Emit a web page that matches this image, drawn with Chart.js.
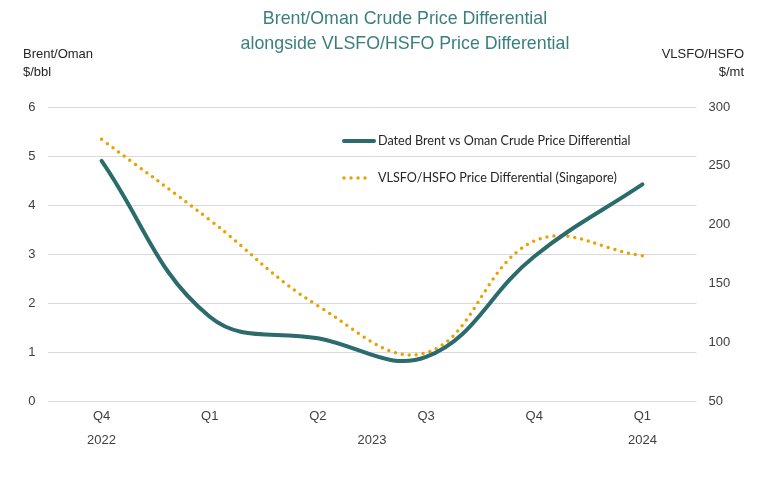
<!DOCTYPE html>
<html>
<head>
<meta charset="utf-8">
<script src="https://cdn.jsdelivr.net/npm/chart.js@4.4.1/dist/chart.umd.min.js"></script>
<style>
  html, body { margin: 0; padding: 0; background: #fff; }
  #wrap { width: 768px; height: 484px; position: relative; }
</style>
</head>
<body>
<div id="wrap"><canvas id="ctx" width="768" height="484"></canvas></div>
<script>
// data
var quarters = ["Q4", "Q1", "Q2", "Q3", "Q4", "Q1"];
var years = ["2022", "2023", "2024"];
var yearPos = [0, 2.5, 5];
var brentOman = [4.90, 1.72, 1.28, 0.90, 2.95, 4.42];
var vlsfoHsfo = [272.5, 204, 131, 91, 186, 173.5];

var titleLines = ["Brent/Oman Crude Price Differential", "alongside VLSFO/HSFO Price Differential"];
var leftCaption = ["Brent/Oman", "$/bbl"];
var rightCaption = ["VLSFO/HSFO", "$/mt"];

var teal = "#2b6b6c";
var gold = "#e8a302";
var tickFont = { family: "'Liberation Sans', sans-serif", size: 13 };

var textPlugin = {
    id: "texts",
    afterDraw: function (chart) {
        var c = chart.ctx;
        c.save();
        c.textBaseline = "middle";

        // title
        c.fillStyle = "#3a7f7e";
        c.font = "17.8px 'Liberation Sans', sans-serif";
        c.textAlign = "center";
        c.fillText(titleLines[0], 405, 19);
        c.fillText(titleLines[1], 405, 44);

        // axis captions
        c.fillStyle = "#262626";
        c.font = "13px 'Liberation Sans', sans-serif";
        c.textAlign = "left";
        c.fillText(leftCaption[0], 23, 54);
        c.fillText(leftCaption[1], 23, 72);
        c.textAlign = "right";
        c.fillText(rightCaption[0], 744, 54);
        c.fillText(rightCaption[1], 744, 72);

        // legend
        var ds = chart.data.datasets;
        c.textAlign = "left";
        c.font = "12.6px Lato, sans-serif";
        c.lineCap = "round";

        c.strokeStyle = ds[0].borderColor;
        c.lineWidth = ds[0].borderWidth;
        c.beginPath();
        c.moveTo(344, 141);
        c.lineTo(374, 141);
        c.stroke();
        c.fillStyle = "#262626";
        c.fillText(ds[0].label, 378, 141);

        c.strokeStyle = ds[1].borderColor;
        c.lineWidth = ds[1].borderWidth;
        c.setLineDash(ds[1].borderDash);
        c.beginPath();
        c.moveTo(344, 178);
        c.lineTo(372, 178);
        c.stroke();
        c.setLineDash([]);
        c.fillText(ds[1].label, 378, 178);

        c.restore();
    }
};

var chart = new Chart(document.getElementById("ctx"), {
    type: "line",
    data: {
        labels: quarters,
        datasets: [
            {
                label: "Dated Brent vs Oman Crude Price Differential",
                data: brentOman,
                yAxisID: "y",
                borderColor: teal,
                backgroundColor: teal,
                borderWidth: 4,
                borderCapStyle: "round",
                tension: 0.4,
                pointRadius: 0
            },
            {
                label: "VLSFO/HSFO Price Differential (Singapore)",
                data: vlsfoHsfo,
                yAxisID: "y1",
                borderColor: gold,
                backgroundColor: gold,
                borderWidth: 3.5,
                borderDash: [0, 7],
                borderCapStyle: "round",
                tension: 0.4,
                pointRadius: 0
            }
        ]
    },
    options: {
        responsive: false,
        animation: false,
        layout: { padding: { top: 107, left: 0, right: 0, bottom: 0 } },
        plugins: {
            legend: { display: false },
            title: { display: false },
            tooltip: { enabled: false }
        },
        scales: {
            x: {
                type: "category",
                position: "bottom",
                offset: true,
                grid: { display: false, drawTicks: false },
                border: { display: false },
                ticks: { color: "#404040", font: tickFont, padding: 8, maxRotation: 0 },
                afterFit: function (s) { s.height = 28; }
            },
            yr: {
                type: "linear",
                position: "bottom",
                min: -0.5,
                max: 5.5,
                grid: { display: false, drawTicks: false },
                border: { display: false },
                afterBuildTicks: function (s) {
                    s.ticks = yearPos.map(function (v) { return { value: v }; });
                },
                ticks: {
                    color: "#404040",
                    font: tickFont,
                    padding: 4,
                    maxRotation: 0,
                    autoSkip: false,
                    callback: function (v, i) { return years[i]; }
                },
                afterFit: function (s) { s.height = 55; }
            },
            y: {
                position: "left",
                min: 0,
                max: 6,
                ticks: { stepSize: 1, color: "#404040", font: tickFont, padding: 12 },
                grid: { color: "#d9d9d9", lineWidth: 1, drawTicks: false },
                border: { display: false },
                afterFit: function (s) { s.width = 47.5; }
            },
            y1: {
                position: "right",
                min: 50,
                max: 300,
                ticks: { stepSize: 50, color: "#404040", font: tickFont, padding: 12 },
                grid: { display: false, drawTicks: false },
                border: { display: false },
                afterFit: function (s) { s.width = 71.5; }
            }
        }
    },
    plugins: [textPlugin]
});
</script>
</body>
</html>
